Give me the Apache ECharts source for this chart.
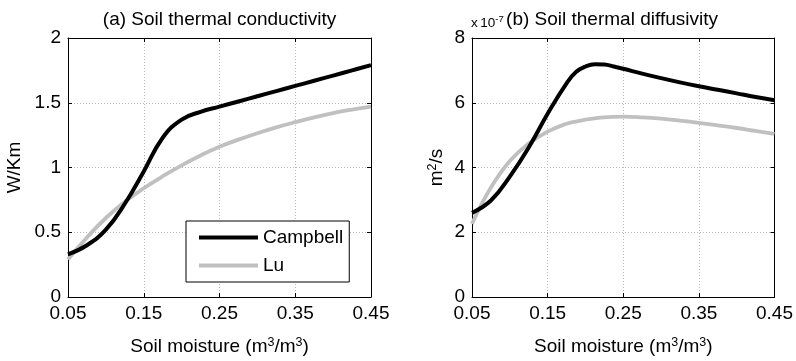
<!DOCTYPE html>
<html><head><meta charset="utf-8">
<script src="https://cdn.jsdelivr.net/npm/echarts@6/dist/echarts.min.js"></script>
<style>html,body{margin:0;padding:0;background:#fff}#c{width:796px;height:361px}</style>
</head><body><div id="c"></div>
<script>
// Soil moisture (m3/m3) sample points, panel (a)
const moisture = [0.05, 0.075, 0.1, 0.125, 0.15, 0.175, 0.2, 0.225, 0.25, 0.275, 0.3, 0.325, 0.35, 0.375, 0.4, 0.425, 0.45];
// (a) thermal conductivity, W/Km
const condCampbell = [0.33, 0.40, 0.52, 0.72, 0.97, 1.23, 1.37, 1.43, 1.47, 1.51, 1.55, 1.59, 1.63, 1.67, 1.71, 1.75, 1.79];
const condLu = [0.29, 0.46, 0.61, 0.735, 0.84, 0.932, 1.017, 1.093, 1.16, 1.215, 1.265, 1.31, 1.35, 1.387, 1.42, 1.447, 1.47];
// Soil moisture sample points, panel (b) (denser near the peak)
const moistureB = [0.05, 0.075, 0.1, 0.125, 0.15, 0.175, 0.1875, 0.2, 0.2125, 0.225, 0.2375, 0.25, 0.275, 0.3, 0.325, 0.35, 0.375, 0.4, 0.425, 0.45];
// (b) thermal diffusivity, x 10^-7 m2/s
const diffCampbell = [2.6, 2.98, 3.72, 4.62, 5.66, 6.6, 6.95, 7.12, 7.19, 7.18, 7.12, 7.05, 6.9, 6.76, 6.63, 6.51, 6.4, 6.29, 6.18, 6.08];
const diffLu = [2.26, 3.38, 4.2, 4.74, 5.11, 5.35, 5.42, 5.48, 5.52, 5.55, 5.565, 5.57, 5.55, 5.51, 5.45, 5.38, 5.3, 5.22, 5.13, 5.04];
// tick labels
const xTicks = [0.05, 0.15, 0.25, 0.35, 0.45];
const condTicks = [0, 0.5, 1, 1.5, 2];
const diffTicks = [0, 2, 4, 6, 8];

const FONT = 'Liberation Sans, Arial, Helvetica, sans-serif';
const FS = 19;
const pair = (xs, arr) => xs.map((m, i) => [m, arr[i]]);
const supRich = {
  n: {fontSize: FS, fontFamily: FONT, color: '#000'},
  sup: {fontSize: 12.5, fontFamily: FONT, color: '#000', verticalAlign: 'top', padding: [0, 0, 8, 0]}
};

function xAx(grid, top) {
  return {
    gridIndex: grid, type: 'value', position: top ? 'top' : 'bottom',
    min: xTicks[0], max: xTicks[xTicks.length - 1], interval: xTicks[1] - xTicks[0],
    axisLine: {onZero: false, lineStyle: {color: '#000', width: 1}},
    axisTick: {inside: true, length: 4, lineStyle: {color: '#000'}},
    axisLabel: top ? {show: false} : {
      color: '#000', fontSize: FS, fontFamily: FONT, margin: 7,
      formatter: v => v.toFixed(2)
    },
    splitLine: top ? {show: false} : {show: true, lineStyle: {color: '#b8b8b8', type: [1, 2], width: 1}},
    name: top ? '' : '{n|Soil moisture (m}{sup|3}{n|/m}{sup|3}{n|)}',
    nameLocation: 'middle', nameGap: 39,
    nameTextStyle: {rich: supRich}
  };
}
function yAx(grid, right, ticks, name, gap) {
  return {
    gridIndex: grid, type: 'value', position: right ? 'right' : 'left',
    min: ticks[0], max: ticks[ticks.length - 1], interval: ticks[1] - ticks[0],
    axisLine: {show: true, onZero: false, lineStyle: {color: '#000', width: 1}},
    axisTick: {show: true, inside: true, length: 4, lineStyle: {color: '#000'}},
    axisLabel: right ? {show: false} : {color: '#000', fontSize: FS, fontFamily: FONT, margin: 7},
    splitLine: right ? {show: false} : {show: true, lineStyle: {color: '#b8b8b8', type: [1, 2], width: 1}},
    name: right ? '' : name,
    nameLocation: 'middle', nameGap: gap, nameRotate: 90,
    nameTextStyle: {rich: supRich}
  };
}

const chart = echarts.init(document.getElementById('c'), null, {renderer: 'canvas'});
const lineStyleBlack = {color: '#000', width: 4};
const lineStyleGray = {color: '#c0c0c0', width: 3.8};
const SM = 0.45;
chart.setOption({
  animation: false,
  backgroundColor: '#fff',
  textStyle: {fontFamily: FONT},
  grid: [
    {left: 68, top: 38, width: 303, height: 259},
    {left: 472, top: 38, width: 304, height: 259}
  ],
  xAxis: [xAx(0, false), xAx(1, false), xAx(0, true), xAx(1, true)],
  yAxis: [
    yAx(0, false, condTicks, '{n|W/Km}', 44),
    yAx(1, false, diffTicks, '{n|m}{sup|2}{n|/s}', 25),
    yAx(0, true, condTicks, '', 0),
    yAx(1, true, diffTicks, '', 0)
  ],
  legend: {
    data: ['Campbell', 'Lu'],
    orient: 'vertical', left: 186, top: 221,
    icon: 'rect', itemWidth: 59, itemHeight: 4, itemGap: 9, itemTextGap: 7,
    padding: [7, 6, 7, 13],
    backgroundColor: '#fff', borderColor: '#000', borderWidth: 1, borderRadius: 0,
    textStyle: {color: '#000', fontSize: FS, fontFamily: FONT},
    selectedMode: false
  },
  graphic: [
    {type: 'text', x: 219.5, y: 20, style: {text: '(a) Soil thermal conductivity', font: FS + 'px ' + FONT, fill: '#000', align: 'center', verticalAlign: 'middle'}},
    {type: 'text', x: 612, y: 20, style: {text: '(b) Soil thermal diffusivity', font: FS + 'px ' + FONT, fill: '#000', align: 'center', verticalAlign: 'middle'}},
    {type: 'text', x: 471, y: 23, style: {
      text: '{a|x}{b|10}{s|-7}', align: 'left', verticalAlign: 'middle',
      rich: {
        a: {fontSize: 13.5, fontFamily: FONT, color: '#000', padding: [0, 2.5, 0, 0]},
        b: {fontSize: 13.5, fontFamily: FONT, color: '#000'},
        s: {fontSize: 9.5, fontFamily: FONT, color: '#000', verticalAlign: 'top', padding: [0, 0, 8, 0]}
      }
    }}
  ],
  series: [
    {name: 'Campbell', type: 'line', xAxisIndex: 0, yAxisIndex: 0, data: pair(moisture, condCampbell), smooth: SM, showSymbol: false, symbol: 'none', lineStyle: lineStyleBlack, itemStyle: {color: '#000'}, z: 3},
    {name: 'Lu', type: 'line', xAxisIndex: 0, yAxisIndex: 0, data: pair(moisture, condLu), smooth: SM, showSymbol: false, symbol: 'none', lineStyle: lineStyleGray, itemStyle: {color: '#c0c0c0'}, z: 2},
    {name: 'Campbell', type: 'line', xAxisIndex: 1, yAxisIndex: 1, data: pair(moistureB, diffCampbell), smooth: SM, showSymbol: false, symbol: 'none', lineStyle: lineStyleBlack, itemStyle: {color: '#000'}, z: 3},
    {name: 'Lu', type: 'line', xAxisIndex: 1, yAxisIndex: 1, data: pair(moistureB, diffLu), smooth: SM, showSymbol: false, symbol: 'none', lineStyle: lineStyleGray, itemStyle: {color: '#c0c0c0'}, z: 2}
  ]
});
</script>
</body></html>
